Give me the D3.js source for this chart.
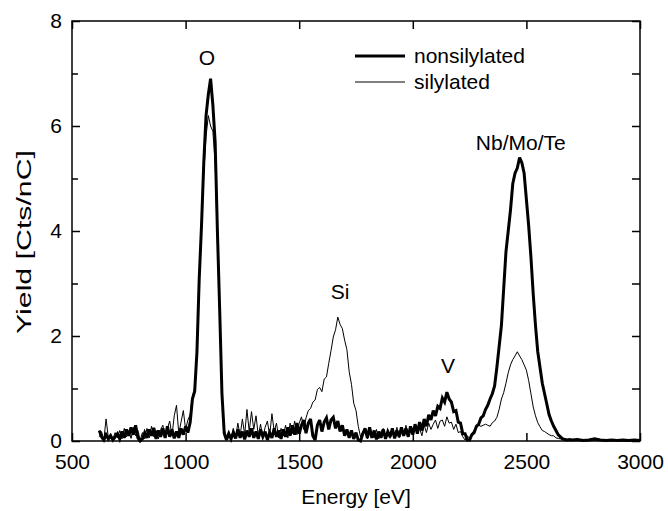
<!DOCTYPE html>
<html>
<head>
<meta charset="utf-8">
<script src="https://cdn.jsdelivr.net/npm/d3@7"></script>
<style>
  body { margin: 0; background: #fff; }
  svg { display: block; font-family: "Liberation Sans", Arial, sans-serif; }
  .trace { fill: none; stroke: #000; stroke-linejoin: miter; stroke-miterlimit: 3; }
</style>
</head>
<body>
<svg width="668" height="511"></svg>
<script>
const width = 668,
  height = 511

// energy grid (eV): 10 eV steps up to 2700, coarser in the flat tail
let energyTail = [2725, 2750, 2775, 2800, 2825, 2850, 2875, 2900, 2925, 2950, 2975, 3000]
let energy = d3.range(620, 2701, 10).concat(energyTail)

// yield [Cts/nC]
let nonsilylated = [
  0.20, 0.08, 0.02, 0.12, 0.04, 0.10, 0.02, 0.08, 0.14, 0.04,
  0.18, 0.06, 0.22, 0.10, 0.26, 0.12, 0.30, 0.06, 0.00, 0.04,
  0.16, 0.06, 0.22, 0.10, 0.25, 0.04, 0.20, 0.08, 0.24, 0.06,
  0.28, 0.08, 0.22, 0.05, 0.18, 0.06, 0.24, 0.12, 0.28, 0.16,
  0.35, 0.80, 0.95, 1.70, 3.10, 4.10, 5.30, 6.20, 6.60, 6.90,
  6.40, 5.70, 4.00, 2.50, 0.90, 0.15, 0.02, 0.14, 0.04, 0.16,
  0.05, 0.22, 0.06, 0.18, 0.03, 0.20, 0.08, 0.24, 0.06, 0.18,
  0.04, 0.22, 0.08, 0.18, 0.02, 0.16, 0.06, 0.24, 0.08, 0.20,
  0.04, 0.22, 0.08, 0.26, 0.10, 0.30, 0.12, 0.34, 0.14, 0.30,
  0.40, 0.15, 0.34, 0.42, 0.10, 0.02, 0.30, 0.40, 0.18, 0.36,
  0.44, 0.22, 0.40, 0.45, 0.24, 0.38, 0.18, 0.30, 0.10, 0.22,
  0.06, 0.20, 0.04, 0.16, 0.02, 0.00, 0.14, 0.24, 0.06, 0.26,
  0.06, 0.20, 0.03, 0.18, 0.06, 0.22, 0.04, 0.18, 0.08, 0.24,
  0.05, 0.20, 0.08, 0.26, 0.10, 0.24, 0.08, 0.28, 0.12, 0.32,
  0.14, 0.36, 0.20, 0.42, 0.28, 0.50, 0.40, 0.58, 0.48, 0.66,
  0.62, 0.82, 0.74, 0.93, 0.80, 0.74, 0.56, 0.58, 0.36, 0.34,
  0.14, 0.14, 0.02, 0.02, 0.12, 0.16, 0.28, 0.32, 0.44, 0.48,
  0.60, 0.68, 0.80, 0.90, 1.05, 1.40, 1.80, 2.20, 2.90, 3.60,
  4.00, 4.40, 4.90, 5.10, 5.20, 5.40, 5.30, 5.10, 4.60, 4.10,
  3.50, 2.80, 2.20, 1.70, 1.40, 1.10, 0.90, 0.70, 0.50, 0.38,
  0.28, 0.20, 0.12, 0.08, 0.04, 0.03, 0.02, 0.03, 0.02,
  0.03, 0.01, 0.02, 0.04, 0.02, 0.01, 0.02, 0.01, 0.02, 0.01, 0.02, 0.01
]

let silylated = [
  0.08, 0.18, 0.02, 0.42, 0.06, 0.14, 0.04, 0.16, 0.06, 0.20,
  0.04, 0.24, 0.08, 0.18, 0.05, 0.26, 0.10, 0.20, 0.02, 0.16,
  0.04, 0.24, 0.06, 0.28, 0.08, 0.20, 0.04, 0.22, 0.30, 0.06,
  0.24, 0.38, 0.10, 0.48, 0.68, 0.14, 0.36, 0.58, 0.22, 0.40,
  0.50, 0.85, 1.00, 1.75, 3.00, 4.00, 5.10, 5.80, 6.20, 6.00,
  5.90, 5.30, 3.80, 2.40, 0.90, 0.22, 0.06, 0.18, 0.03, 0.24,
  0.06, 0.34, 0.10, 0.42, 0.12, 0.60, 0.18, 0.56, 0.22, 0.48,
  0.10, 0.32, 0.06, 0.26, 0.38, 0.10, 0.52, 0.18, 0.34, 0.06,
  0.24, 0.10, 0.30, 0.06, 0.34, 0.14, 0.38, 0.12, 0.34, 0.46,
  0.22, 0.44, 0.58, 0.62, 0.74, 0.78, 0.98, 1.02, 0.94, 1.18,
  1.22, 1.48, 1.72, 1.98, 2.12, 2.36, 2.22, 2.14, 1.92, 1.74,
  1.32, 1.08, 0.72, 0.58, 0.28, 0.08, 0.18, 0.24, 0.04, 0.26,
  0.12, 0.06, 0.22, 0.04, 0.18, 0.24, 0.06, 0.20, 0.05, 0.22,
  0.08, 0.26, 0.06, 0.22, 0.12, 0.30, 0.08, 0.24, 0.12, 0.28,
  0.14, 0.24, 0.10, 0.30, 0.16, 0.34, 0.22, 0.32, 0.40, 0.24,
  0.38, 0.40, 0.28, 0.46, 0.34, 0.36, 0.22, 0.32, 0.16, 0.18,
  0.08, 0.02, 0.10, 0.05, 0.15, 0.20, 0.25, 0.30, 0.28, 0.30,
  0.32, 0.30, 0.28, 0.35, 0.38, 0.45, 0.60, 0.80, 0.92, 1.10,
  1.30, 1.45, 1.55, 1.62, 1.70, 1.62, 1.55, 1.45, 1.35, 1.15,
  0.90, 0.65, 0.48, 0.35, 0.27, 0.20, 0.18, 0.15, 0.12, 0.10,
  0.10, 0.06, 0.05, 0.04, 0.03, 0.02, 0.03, 0.02, 0.02,
  0.02, 0.03, 0.01, 0.02, 0.01, 0.02, 0.01, 0.02, 0.01, 0.02, 0.01, 0.02
]

let xTicks = [500, 1000, 1500, 2000, 2500, 3000]
let yTicks = [0, 2, 4, 6, 8]
let yMinorTicks = [1, 3, 5, 7]

let peakLabels = [
  { text: 'O', energy: 1094, y: 7.3 },
  { text: 'Si', energy: 1680, y: 2.84 },
  { text: 'V', energy: 2155, y: 1.43 },
  { text: 'Nb/Mo/Te', energy: 2475, y: 5.68 }
]

let seriesNames = ['nonsilylated', 'silylated']

let margin = { top: 21, right: 28, bottom: 70, left: 72 }
let plotW = width - margin.left - margin.right,
  plotH = height - margin.top - margin.bottom

let x = d3.scaleLinear().domain([500, 3000]).range([0, plotW])
let y = d3.scaleLinear().domain([0, 8]).range([plotH, 0])

let svg = d3.select('svg')
let g = svg.append('g')
  .attr('transform', `translate(${margin.left},${margin.top})`)

let line = d3.line()
  .x(d => x(d[0]))
  .y(d => y(d[1]))

let series = [
  { name: 'nonsilylated', values: nonsilylated, width: 3 },
  { name: 'silylated', values: silylated, width: 1 }
]

// thin first so the thick trace sits on top where they overlap
series.slice().reverse().forEach(s => {
  g.append('path')
    .attr('class', 'trace')
    .attr('stroke-width', s.width)
    .attr('d', line(energy.map((e, i) => [e, s.values[i]])))
})

// axes with inward ticks
let tickStyle = sel => {
  sel.select('.domain').remove()
  sel.selectAll('text')
    .attr('font-size', 21)
    .attr('fill', '#000')
  sel.selectAll('line').attr('stroke', '#000').attr('stroke-width', 1.5)
}

g.append('g')
  .attr('transform', `translate(0,${plotH})`)
  .call(d3.axisBottom(x).tickValues(xTicks).tickSize(-8).tickPadding(13).tickFormat(d3.format('d')))
  .call(tickStyle)

g.append('g')
  .call(d3.axisTop(x).tickValues(xTicks).tickSize(-8).tickFormat(''))
  .call(tickStyle)

g.append('g')
  .call(d3.axisLeft(y).tickValues(yTicks).tickSize(-8).tickPadding(10).tickFormat(d3.format('d')))
  .call(tickStyle)

g.append('g')
  .call(d3.axisLeft(y).tickValues(yMinorTicks).tickSize(-6).tickFormat(''))
  .call(tickStyle)

g.append('g')
  .attr('transform', `translate(${plotW},0)`)
  .call(d3.axisRight(y).tickValues(yTicks.concat(yMinorTicks)).tickSize(-8).tickFormat(''))
  .call(tickStyle)

g.append('rect')
  .attr('width', plotW)
  .attr('height', plotH)
  .attr('fill', 'none')
  .attr('stroke', '#000')
  .attr('stroke-width', 1.5)

// peak annotations
g.selectAll('text.peak')
  .data(peakLabels)
  .enter()
    .append('text')
    .attr('class', 'peak')
    .attr('x', d => x(d.energy))
    .attr('y', d => y(d.y))
    .attr('dy', '0.35em')
    .attr('text-anchor', 'middle')
    .attr('font-size', 21)
    .text(d => d.text)

// legend
let legend = g.append('g')
  .attr('transform', `translate(${355 - margin.left},${56 - margin.top})`)

series.forEach((s, i) => {
  legend.append('line')
    .attr('x1', 0).attr('x2', 50)
    .attr('y1', i * 26).attr('y2', i * 26)
    .attr('stroke', '#000')
    .attr('stroke-width', s.width)
  legend.append('text')
    .attr('x', 59)
    .attr('y', i * 26)
    .attr('dy', '0.35em')
    .attr('font-size', 21)
    .text(seriesNames[i])
})

// axis titles
svg.append('text')
  .attr('x', margin.left + plotW / 2)
  .attr('y', 497)
  .attr('dy', '0.35em')
  .attr('text-anchor', 'middle')
  .attr('font-size', 21)
  .text('Energy [eV]')

// the y title in the original runs long along its baseline
svg.append('text')
  .attr('transform', 'translate(24,242) rotate(-90)')
  .attr('x', -92)
  .attr('dy', '0.35em')
  .attr('font-size', 21)
  .attr('textLength', 184)
  .attr('lengthAdjust', 'spacingAndGlyphs')
  .text('Yield [Cts/nC]')
</script>
</body>
</html>
